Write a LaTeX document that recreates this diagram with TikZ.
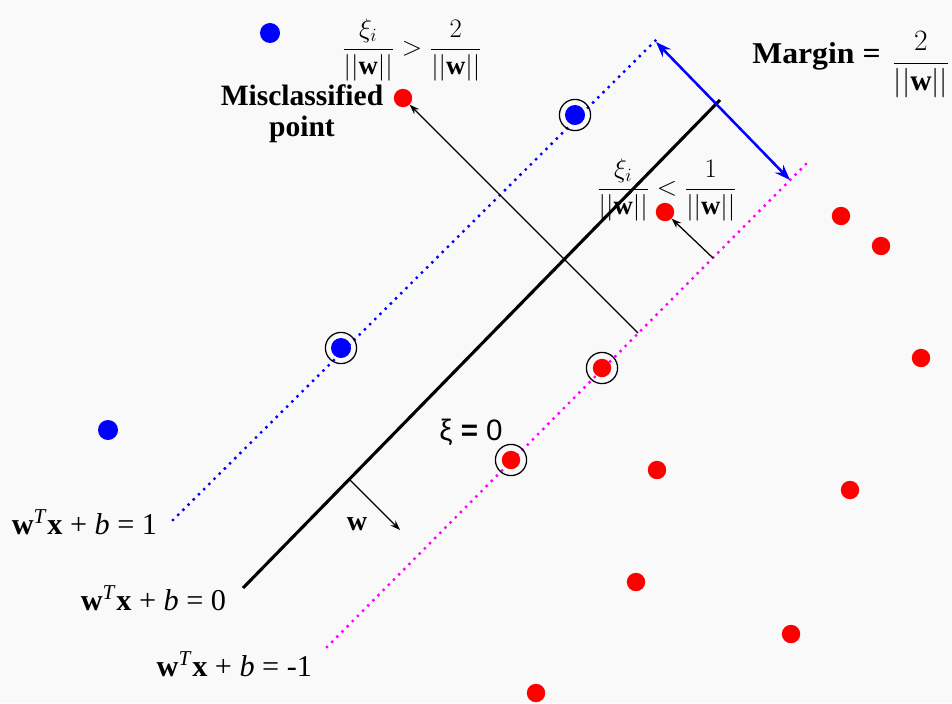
\RequirePackage{fix-cm}
\documentclass[tikz,border=0pt]{standalone}
\usepackage{amsmath}
\usepackage{graphicx}
\usepackage{fontspec}
\setmainfont{Liberation Serif}
\newfontfamily\arialfont{Liberation Sans}
\usetikzlibrary{arrows.meta}

\definecolor{bgcol}{RGB}{249,249,249}
\definecolor{posblue}{RGB}{0,0,255}
\definecolor{negred}{RGB}{255,0,0}
\definecolor{negmag}{RGB}{255,0,255}

\begin{document}
\begin{tikzpicture}[
  x=0.025cm, y=-0.025cm,
  bluedot/.style={circle, fill=posblue, inner sep=0pt, minimum size=0.5cm},
  reddot/.style={circle, fill=negred, inner sep=0pt, minimum size=0.46cm},
  sv/.style={circle, draw=black, line width=0.9pt, inner sep=0pt, minimum size=0.78cm},
  dotline/.style={line width=2.4pt, line cap=round, dash pattern=on 0pt off 5.2pt},
  eqlabel/.style={anchor=east, font=\fontsize{21.5}{24}\selectfont},
  frlabel/.style={font=\fontsize{19}{22}\selectfont},
  thinarr/.style={-{Stealth[length=7pt, width=5pt]}, line width=0.9pt}
]

% background and margins
\useasboundingbox (0,0) rectangle (952,703);
\fill[bgcol] (0,0) rectangle (952,703);

% the three lines
\coordinate (pA) at (173,520);
\coordinate (pB) at (658,38);
\coordinate (hA) at (243,588);
\coordinate (hB) at (720,100);
\coordinate (nA) at (327,647);
\coordinate (nB) at (808,162);
\draw[dotline, posblue] (pA) -- (pB);
\draw[line width=2.2pt, black] (hA) -- (hB);
\draw[dotline, negmag] (nA) -- (nB);

% support vectors
\foreach \name/\x/\y/\kind in {svA/341/348/bluedot, svB/575/115/bluedot, svC/602/368/reddot, svD/511/460/reddot}{
  \node[sv] (\name) at (\x,\y) {};
  \node[\kind] at (\x,\y) {};
}

% other points
\node[bluedot] (pa) at (270,33) {};
\node[bluedot] (pb) at (108,430) {};
\node[reddot] (mis) at (403,98) {};
\node[reddot] (slk) at (665,212) {};
\foreach \name/\x/\y in {na/841/216, nb/881/246, nc/921/358, nd/657/470,
  ne/850/490, nf/636/582, ng/791/634, nh/536/693}{
  \node[reddot] (\name) at (\x,\y) {};
}

% margin arrow
\coordinate (mA) at (656,42);
\coordinate (mB) at (790,180);
\draw[{Stealth[length=11pt, width=8pt]}-{Stealth[length=11pt, width=8pt]}, line width=1.8pt, posblue] (mA) -- (mB);

% slack arrows and normal vector
\coordinate (sA) at (638,333);
\coordinate (sB) at (713,258);
\coordinate (wA) at (350,480);
\coordinate (wB) at (400,530);
\draw[thinarr] (sA) -- (mis.south east);
\draw[thinarr] (sB) -- (slk.south east);
\draw[thinarr] (wA) -- (wB);

% labels
\node[eqlabel] (eq1) at (162,522) {\textbf{w}\textsuperscript{\textit{T}}\textbf{x} + \textit{b} = 1};
\node[eqlabel] (eq0) at (231,598) {\textbf{w}\textsuperscript{\textit{T}}\textbf{x} + \textit{b} = 0};
\node[eqlabel] (eqm) at (317,664) {\textbf{w}\textsuperscript{\textit{T}}\textbf{x} + \textit{b} = -1};
\node[font=\fontsize{20}{24}\selectfont\bfseries] (wlbl) at (357,524) {w};
\node[font=\arialfont\fontsize{21}{24}\selectfont] (xi0) at (471,432) {ξ \textbf{=} 0};
\node[align=center, font=\fontsize{21}{22}\selectfont\bfseries] (mislbl) at (302,114) {Misclassified\\point};
\node[frlabel] (frA) at (412,50) {$\dfrac{\xi_i}{||\mathbf{w}||} > \dfrac{2}{||\mathbf{w}||}$};
\node[frlabel] (frB) at (667,190) {$\dfrac{\xi_i}{||\mathbf{w}||} < \dfrac{1}{||\mathbf{w}||}$};
\node[anchor=west, inner sep=0pt, font=\fontsize{21.5}{24}\selectfont\bfseries] (marg) at (752,56) {\scalebox{1.05}[1]{Margin =}};
\node[inner sep=0pt, font=\fontsize{21}{24}\selectfont] (margfr) at (921,65) {$\dfrac{2}{||\mathbf{w}||}$};

\end{tikzpicture}
\end{document}
